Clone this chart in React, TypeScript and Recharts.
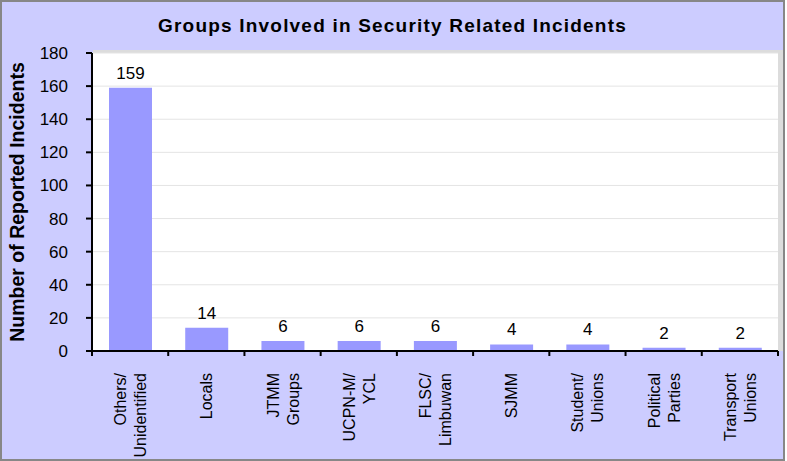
import { BarChart, Bar, XAxis, YAxis, CartesianGrid, LabelList, Label } from "recharts"

const groups = [
	"Others/\nUnidentified",
	"Locals",
	"JTMM\nGroups",
	"UCPN-M/\nYCL",
	"FLSC/\nLimbuwan",
	"SJMM",
	"Student/\nUnions",
	"Political\nParties",
	"Transport\nUnions",
]
const incidents = [159, 14, 6, 6, 6, 4, 4, 2, 2]
const yTicks = [0, 20, 40, 60, 80, 100, 120, 140, 160, 180]

const data = groups.map((g, i) => ({ group: g, count: incidents[i] }))

const FONT = "'Liberation Sans', Arial, sans-serif"
const W = 785
const H = 461
const BORDER = 2
const CHART_W = W - BORDER * 2
const CHART_H = H - BORDER * 2
const MARGIN = { top: 51, right: 5, left: 0, bottom: 0 }
const Y_AXIS_W = 90
const X_AXIS_H = 108
const PLOT_W = CHART_W - MARGIN.left - MARGIN.right - Y_AXIS_W

function GroupTick(props: any) {
	const { x, y, payload, index } = props
	const lines = String(payload.value).split("\n")
	const half = payload.offset || PLOT_W / groups.length / 2
	const ty = y + 22
	return (
		<g>
			<line x1={x - half} y1={y} x2={x - half} y2={y + 5} stroke="#000" strokeWidth={2} />
			{index === groups.length - 1 && (
				<line x1={x + half} y1={y} x2={x + half} y2={y + 5} stroke="#000" strokeWidth={2} />
			)}
			<text
				transform={`rotate(-90, ${x}, ${ty})`}
				textAnchor="end"
				fontFamily={FONT}
				fontSize={16}
				fill="#000"
			>
				{lines.map((ln, i) => (
					<tspan key={i} x={x} y={ty + 6 + (i - (lines.length - 1) / 2) * 20}>
						{ln}
					</tspan>
				))}
			</text>
		</g>
	)
}

function YTitle(props: any) {
	const { viewBox } = props
	const cx = 15
	const cy = viewBox.y + viewBox.height / 2
	return (
		<text
			x={cx}
			y={cy}
			transform={`rotate(-90, ${cx}, ${cy})`}
			textAnchor="middle"
			dominantBaseline="central"
			fontFamily={FONT}
			fontSize={19.5}
			fontWeight="bold"
			fill="#000"
		>
			Number of Reported Incidents
		</text>
	)
}

export default function App() {
	return (
		<div
			style={{
				position: "absolute",
				left: 0,
				top: 0,
				width: W,
				height: H,
				boxSizing: "border-box",
				border: `${BORDER}px solid #878787`,
				background: "#CCCCFF",
				fontFamily: FONT,
			}}
		>
			<div
				style={{
					position: "absolute",
					left: 0,
					right: 0,
					top: 14,
					textAlign: "center",
					fontSize: 19,
					letterSpacing: 1.2,
					fontWeight: "bold",
					lineHeight: "20px",
					color: "#000",
				}}
			>
				Groups Involved in Security Related Incidents
			</div>
			<div
				style={{
					position: "absolute",
					left: MARGIN.left + Y_AXIS_W + 1,
					top: MARGIN.top - 3,
					width: PLOT_W + 4,
					height: CHART_H - MARGIN.top - X_AXIS_H + 3,
					background: "#DCDCDC",
				}}
			/>
			<div style={{ position: "absolute", left: 0, top: 0 }}>
				<BarChart width={CHART_W} height={CHART_H} data={data} margin={MARGIN}>
					<CartesianGrid vertical={false} stroke="#E4E4E4" fill="#FFFFFF" />
					<XAxis
						dataKey="group"
						interval={0}
						height={X_AXIS_H}
						tickSize={0}
						tickMargin={0}
						tickLine={false}
						axisLine={{ stroke: "#000", strokeWidth: 2 }}
						tick={<GroupTick />}
					/>
					<YAxis
						width={Y_AXIS_W}
						domain={[0, 180]}
						ticks={yTicks}
						interval={0}
						tickSize={6}
						tickMargin={18}
						axisLine={{ stroke: "#000", strokeWidth: 2 }}
						tickLine={{ stroke: "#000", strokeWidth: 2 }}
						tick={{ fill: "#000", fontSize: 17, fontFamily: FONT }}
					>
						<Label content={<YTitle />} />
					</YAxis>
					<Bar dataKey="count" fill="#9999FF" barSize={43} isAnimationActive={false}>
						<LabelList
							dataKey="count"
							position="top"
							offset={9}
							fill="#000"
							fontSize={17}
							fontFamily={FONT}
						/>
					</Bar>
				</BarChart>
			</div>
		</div>
	)
}
